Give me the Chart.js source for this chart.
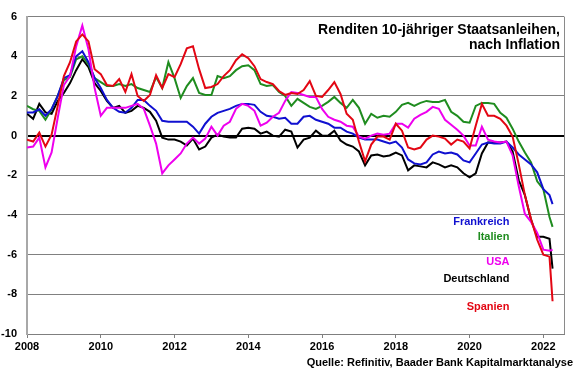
<!DOCTYPE html>
<html>
<head>
<meta charset="utf-8">
<script src="https://cdn.jsdelivr.net/npm/chart.js@4"></script>
<style>
  html, body { margin: 0; padding: 0; background: #fff; }
</style>
</head>
<body>
<canvas id="chart" width="580" height="375"></canvas>
<script>
// month offsets from Jan 2008 (every second month, last point = Apr 2022)
const months = Array.from({length: 86}, (_, i) => i * 2).concat([171]);
const years = months.map(m => 2008 + m / 12);

const spanien = [-0.2,-0.3,0.15,-0.55,0.05,1.5,3.0,3.7,4.75,5.1,4.75,3.35,3.1,2.55,2.5,2.85,2.2,3.1,2.0,1.75,
  2.05,3.05,2.4,3.1,2.95,3.6,4.4,4.5,3.35,2.4,2.45,2.6,3.0,3.3,3.8,4.1,3.9,3.5,2.85,2.7,
  2.6,2.25,2.05,2.15,2.1,2.3,2.75,2.0,1.95,2.3,2.7,2.1,1.1,0.8,-0.3,-1.3,-0.45,-0.05,-0.05,-0.2,
  0.6,0.25,-0.6,-0.7,-0.6,-0.2,0.0,-0.05,-0.15,-0.45,-0.2,-0.3,-0.65,0.5,1.6,1.0,1.0,0.85,0.5,-0.05,
  -1.45,-3.0,-4.2,-5.25,-6.0,-6.1,-8.35];
const usa = [-0.6,-0.55,-0.1,-1.6,-0.85,0.9,2.55,3.0,4.5,5.55,4.35,2.4,1.0,1.4,1.4,1.4,1.4,1.5,1.6,1.35,
  0.5,-0.4,-1.9,-1.5,-1.2,-0.9,-0.4,-0.1,-0.4,-0.15,0.45,0.0,0.5,0.7,1.35,1.6,1.5,1.25,0.5,0.65,
  0.95,1.15,1.75,2.2,2.15,2.05,1.95,1.95,1.35,0.95,0.8,0.7,0.5,0.45,-0.05,-0.15,0.0,0.1,0.05,0.1,
  0.6,0.6,0.4,0.85,1.05,1.2,1.45,1.35,0.8,0.55,0.3,0.0,-0.5,-0.5,0.45,-0.2,-0.3,-0.35,-0.3,-1.0,
  -2.55,-3.95,-4.35,-4.9,-5.75,-5.8,-5.75];
const frankreich = [1.17,1.17,1.33,1.0,1.33,2.0,2.9,3.05,4.0,4.25,3.7,2.9,2.4,1.8,1.4,1.2,1.15,1.4,1.8,1.8,
  1.5,1.25,0.75,0.7,0.7,0.7,0.7,0.45,0.1,0.6,0.95,1.15,1.25,1.35,1.5,1.6,1.6,1.55,1.2,1.0,
  0.95,0.85,0.9,0.6,0.6,0.95,1.0,0.8,0.7,0.6,0.4,0.4,0.2,0.1,-0.1,-0.2,-0.2,-0.2,-0.3,-0.4,
  -0.3,-0.6,-1.2,-1.4,-1.45,-1.35,-0.95,-0.8,-0.9,-0.85,-0.95,-1.25,-1.35,-0.9,-0.45,-0.35,-0.4,-0.4,-0.3,-0.6,
  -0.95,-1.2,-1.45,-1.85,-2.7,-3.0,-3.45];
const italien = [1.5,1.33,1.25,0.8,1.33,2.0,2.8,2.95,3.85,4.0,3.6,2.9,2.7,2.5,2.5,2.6,2.5,2.6,2.4,2.3,
  2.2,2.95,2.4,3.7,2.9,1.9,2.5,2.9,2.15,2.05,2.05,3.0,2.9,3.0,3.3,3.5,3.55,3.3,2.6,2.5,
  2.55,2.2,2.0,1.5,1.85,1.65,1.45,1.35,1.5,1.7,1.95,1.65,1.4,1.8,1.4,0.6,1.1,0.9,1.0,0.95,
  1.2,1.55,1.65,1.5,1.65,1.75,1.7,1.7,1.8,1.2,1.0,0.7,0.65,1.5,1.65,1.65,1.6,1.15,0.9,0.35,
  -0.3,-0.85,-1.35,-2.3,-2.7,-4.1,-4.6];
const deutschland = [1.1,0.85,1.6,1.17,1.1,1.75,2.15,2.65,3.3,3.85,3.45,2.65,2.25,1.75,1.4,1.5,1.15,1.25,1.5,1.4,
  1.2,0.75,-0.1,-0.2,-0.2,-0.3,-0.5,-0.15,-0.7,-0.55,-0.1,0.05,-0.05,-0.1,-0.1,0.35,0.4,0.35,0.1,0.2,
  0.0,-0.05,0.3,0.2,-0.6,-0.2,-0.1,0.25,0.0,0.0,0.25,-0.25,-0.45,-0.55,-0.8,-1.5,-1.0,-0.95,-1.05,-1.0,
  -0.85,-1.0,-1.75,-1.5,-1.55,-1.6,-1.35,-1.45,-1.6,-1.5,-1.6,-1.9,-2.1,-1.9,-0.9,-0.35,-0.35,-0.35,-0.3,-0.8,
  -2.25,-3.0,-4.25,-5.1,-5.1,-5.2,-6.7];

const yTicks = [-10, -8, -6, -4, -2, 0, 2, 4, 6];
const xTicks = [2008, 2010, 2012, 2014, 2016, 2018, 2020, 2022];

const series = [
  {name: 'Spanien', values: spanien, color: '#e30613'},
  {name: 'USA', values: usa, color: '#ee00ee'},
  {name: 'Frankreich', values: frankreich, color: '#1010d0'},
  {name: 'Italien', values: italien, color: '#1f8c1f'},
  {name: 'Deutschland', values: deutschland, color: '#000000'}
];

// where the series names sit (data units)
const labelYear = 2021.08;
const labelLevels = {Frankreich: -4.36, Italien: -5.09, USA: -6.39, Deutschland: -7.23, Spanien: -8.63};
const labelOrder = ['Frankreich', 'Italien', 'USA', 'Deutschland', 'Spanien'];

const FONT = '"Liberation Sans", Arial, sans-serif';

const textPlugin = {
  id: 'texts',
  afterDatasetsDraw(chart) {
    const {ctx, chartArea, scales} = chart;
    ctx.save();
    // right frame line
    ctx.strokeStyle = '#8a8a8a';
    ctx.lineWidth = 1;
    ctx.beginPath();
    ctx.moveTo(chartArea.right + 0.5, chartArea.top);
    ctx.lineTo(chartArea.right + 0.5, chartArea.bottom);
    ctx.stroke();

    ctx.textAlign = 'right';
    ctx.textBaseline = 'middle';
    ctx.fillStyle = '#000';
    ctx.font = 'bold 14px ' + FONT;
    ctx.fillText('Renditen 10-jähriger Staatsanleihen,', chartArea.right - 4, chartArea.top + 14);
    ctx.fillText('nach Inflation', chartArea.right - 4, chartArea.top + 29);

    ctx.font = 'bold 11px ' + FONT;
    labelOrder.forEach(name => {
      const s = series.find(d => d.name === name);
      ctx.fillStyle = s.color;
      ctx.fillText(name, scales.x.getPixelForValue(labelYear), scales.y.getPixelForValue(labelLevels[name]));
    });

    ctx.fillStyle = '#000';
    ctx.fillText('Quelle: Refinitiv, Baader Bank Kapitalmarktanalyse', chart.width - 7, chart.height - 12);
    ctx.restore();
  }
};

new Chart(document.getElementById('chart'), {
  type: 'line',
  data: {
    datasets: series.map(s => ({
      label: s.name,
      data: years.map((x, i) => ({x: x, y: s.values[i]})),
      borderColor: s.color,
      backgroundColor: s.color,
      borderWidth: 2,
      pointRadius: 0,
      tension: 0,
      fill: false
    }))
  },
  options: {
    responsive: false,
    animation: false,
    layout: {padding: {top: 6, right: 16, left: 0, bottom: 0}},
    plugins: {legend: {display: false}, tooltip: {enabled: false}, title: {display: false}},
    scales: {
      x: {
        type: 'linear',
        min: 2008,
        max: 2022.56,
        afterBuildTicks: s => { s.ticks = xTicks.map(v => ({value: v})); },
        afterFit: s => { s.height = 41; },
        grid: {drawOnChartArea: false, drawTicks: true, tickLength: 4, color: '#7f7f7f'},
        border: {color: '#7f7f7f', width: 1},
        ticks: {
          font: {family: FONT, size: 11, weight: 'bold'},
          color: '#000',
          padding: 2,
          maxRotation: 0,
          autoSkip: false,
          callback: v => String(v)
        }
      },
      y: {
        min: -10,
        max: 6,
        afterBuildTicks: s => { s.ticks = yTicks.map(v => ({value: v})); },
        afterFit: s => { s.width = 27; },
        grid: {
          drawTicks: false,
          color: c => (c.tick && c.tick.value === 0) ? '#000' : '#808080',
          lineWidth: c => (c.tick && c.tick.value === 0) ? 2 : 1
        },
        border: {color: '#a8a8a8', width: 2},
        ticks: {
          font: {family: FONT, size: 11, weight: 'bold'},
          color: '#000',
          padding: 10,
          callback: v => String(v)
        }
      }
    }
  },
  plugins: [textPlugin]
});
</script>
</body>
</html>
